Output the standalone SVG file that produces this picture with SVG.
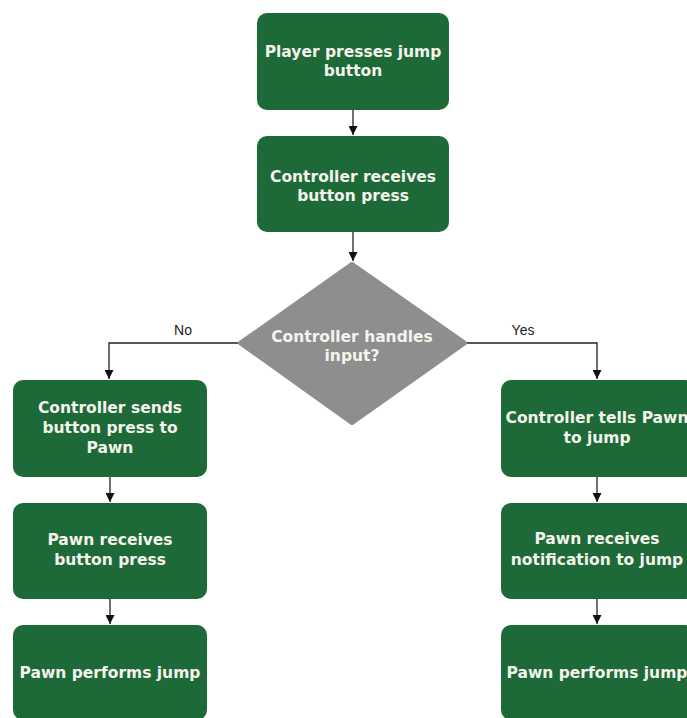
<svg xmlns="http://www.w3.org/2000/svg" width="687" height="718" viewBox="0 0 687 718">
<defs>
<style>
.box{fill:#1d6a38;}
.dia{fill:#8e8e8e;}
.t{font-family:"DejaVu Sans",Verdana,sans-serif;font-weight:bold;font-size:15.5px;fill:#f4f4ec;text-anchor:middle;}
.lbl{font-family:"Liberation Sans",Arial,sans-serif;font-size:14px;fill:#222;text-anchor:middle;}
.ln{fill:none;stroke:#222;stroke-width:1.3;}
</style>
<marker id="ah" viewBox="0 0 10 10" refX="10" refY="5" markerWidth="9" markerHeight="9" markerUnits="userSpaceOnUse" orient="auto">
<path d="M0,0 L10,5 L0,10 z" fill="#111"/>
</marker>
</defs>
<rect width="687" height="718" fill="#ffffff"/>
<g id="connectors">
<path class="ln" d="M353,110 V135" marker-end="url(#ah)"/>
<path class="ln" d="M353,232 V261" marker-end="url(#ah)"/>
<path class="ln" d="M238,343 H109 V379" marker-end="url(#ah)"/>
<path class="ln" d="M467,343 H597 V379" marker-end="url(#ah)"/>
<path class="ln" d="M110,477 V502" marker-end="url(#ah)"/>
<path class="ln" d="M110,599 V624" marker-end="url(#ah)"/>
<path class="ln" d="M597,477 V502" marker-end="url(#ah)"/>
<path class="ln" d="M597,599 V624" marker-end="url(#ah)"/>
<text class="lbl" x="183" y="335">No</text>
<text class="lbl" x="523" y="335">Yes</text>
</g>
<g id="n1">
<rect class="box" x="257" y="13" width="192" height="97" rx="10"/>
<text class="t" x="353" y="57">Player presses jump</text>
<text class="t" x="353" y="76">button</text>
</g>
<g id="n2">
<rect class="box" x="257" y="136" width="192" height="96" rx="10"/>
<text class="t" x="353" y="182">Controller receives</text>
<text class="t" x="353" y="201">button press</text>
</g>
<g id="n3">
<path class="dia" d="M352,264 L465,343 L352,423 L240,343 Z" stroke="#8e8e8e" stroke-width="4" stroke-linejoin="round"/>
<text class="t" x="352" y="342">Controller handles</text>
<text class="t" x="352" y="361">input?</text>
</g>
<g id="n4">
<rect class="box" x="13" y="380" width="194" height="97" rx="10"/>
<text class="t" x="110" y="413">Controller sends</text>
<text class="t" x="110" y="433">button press to</text>
<text class="t" x="110" y="453">Pawn</text>
</g>
<g id="n5">
<rect class="box" x="13" y="503" width="194" height="96" rx="10"/>
<text class="t" x="110" y="545">Pawn receives</text>
<text class="t" x="110" y="565">button press</text>
</g>
<g id="n6">
<rect class="box" x="13" y="625" width="194" height="95" rx="10"/>
<text class="t" x="110" y="678">Pawn performs jump</text>
</g>
<g id="n7">
<rect class="box" x="501" y="380" width="194" height="97" rx="10"/>
<text class="t" x="597" y="423">Controller tells Pawn</text>
<text class="t" x="597" y="443">to jump</text>
</g>
<g id="n8">
<rect class="box" x="501" y="503" width="194" height="96" rx="10"/>
<text class="t" x="597" y="544">Pawn receives</text>
<text class="t" x="597" y="565">notification to jump</text>
</g>
<g id="n9">
<rect class="box" x="501" y="625" width="194" height="95" rx="10"/>
<text class="t" x="597" y="678">Pawn performs jump</text>
</g>
</svg>
